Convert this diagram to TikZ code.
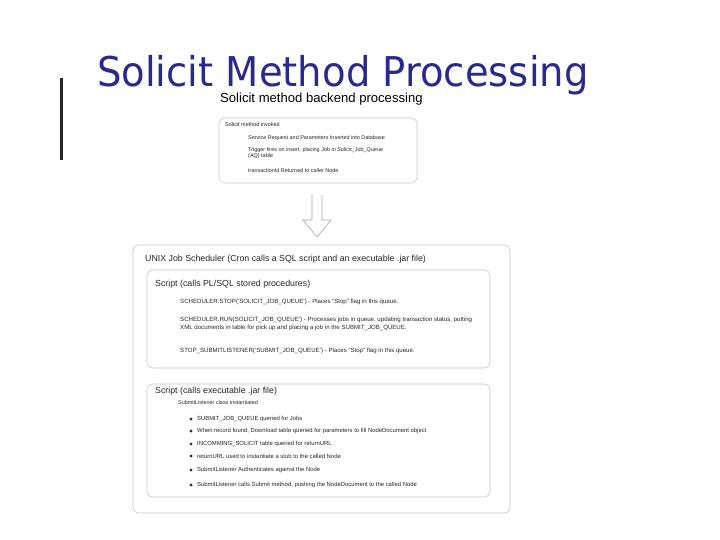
\documentclass[tikz,border=0pt]{standalone}
\usepackage{fontspec}
\setmainfont{Liberation Sans}
\newfontfamily\titlefont{DejaVu Sans}
\usetikzlibrary{shapes.geometric}

\tikzset{
  panel/.style={draw=black!22, line width=0.6pt, rounded corners=6pt},
  tinytext/.style={anchor=west, inner sep=0pt, font=\fontsize{5.45}{6.6}\selectfont, text=black!85},
  smalltext/.style={anchor=west, inner sep=0pt, font=\fontsize{6.1}{7.4}\selectfont, text=black!85},
  midtext/.style={anchor=west, inner sep=0pt, font=\fontsize{8.8}{10.5}\selectfont, text=black!85},
  bul/.style={diamond, fill=black!80, inner sep=0pt, minimum size=3.2pt}
}

\begin{document}
\begin{tikzpicture}[x=1pt,y=-1pt]
\useasboundingbox (0,0) rectangle (720,540);
\definecolor{headColor}{RGB}{42,42,140}
% title
\node[anchor=base west, inner sep=0pt, text=headColor, font=\titlefont\fontsize{41}{48}\selectfont] (title) at (97,87) {\scalebox{0.94}[1]{Solicit Method Processing}};
\fill[black!85] (60,78) rectangle (63,160);
\node[anchor=base west, inner sep=0pt, font=\fontsize{13.1}{15}\selectfont] (backend) at (220,103) {Solicit method backend processing};
% invoke box
\draw[panel] (219,118) rectangle (417,183);
\node[tinytext] (invoked) at (225,125) {Solicit method invoked};
\node[tinytext] (insert) at (248,138) {Service Request and Parameters Inserted into Database};
\node[tinytext, align=left, anchor=north west] (trigger) at (248,147) {Trigger fires on insert, placing Job in Solicit\_Job\_Queue\\(AQ) table};
\node[tinytext] (txid) at (248,171) {transactionId Returned to caller Node};
% arrow
\draw[black!35, line width=0.6pt] (312,195) -- (312,220) -- (303,220) -- (317,237) -- (331,220) -- (322,220) -- (322,195);
% scheduler box
\draw[panel] (133,245) rectangle (510,513);
\node[midtext] (unix) at (145,259) {UNIX Job Scheduler (Cron calls a SQL script and an executable .jar file)};
\draw[panel] (147,270) rectangle (490,368);
\node[midtext] (plsql) at (155,284) {Script (calls PL/SQL stored procedures)};
\node[smalltext] (stop) at (180,302) {SCHEDULER.STOP(`SOLICIT\_JOB\_QUEUE') - Places ``Stop'' flag in this queue.};
\node[smalltext, align=left, anchor=north west] (run) at (180,317) {SCHEDULER.RUN(SOLICIT\_JOB\_QUEUE') - Processes jobs in queue, updating transaction status, putting\\XML documents in table for pick up and placing a job in the SUBMIT\_JOB\_QUEUE.};
\node[smalltext] (stoplsn) at (180,351) {STOP\_SUBMITLISTENER(`SUBMIT\_JOB\_QUEUE') - Places ``Stop'' flag in this queue.};
% jar box
\draw[panel] (147,384) rectangle (490,497);
\node[midtext] (jar) at (155,391) {Script (calls executable .jar file)};
\node[tinytext] (inst) at (178,403) {SubmitListener class instantiated};
\foreach \y/\t [count=\i] in {419/{SUBMIT\_JOB\_QUEUE queried for Jobs},
    431/{When record found, Download table queried for parameters to fill NodeDocument object},
    444/{INCOMMING\_SOLICIT table queried for returnURL},
    456/{returnURL used to instantiate a stub to the called Node},
    470/{SubmitListener Authenticates against the Node},
    485/{SubmitListener calls Submit method, pushing the NodeDocument to the called Node}}
{
  \node[bul] (dot\i) at (191,\y) {};
  \node[smalltext, font=\fontsize{5.9}{7}\selectfont] (step\i) at (197,\y) {\t};
}
\end{tikzpicture}
\end{document}
